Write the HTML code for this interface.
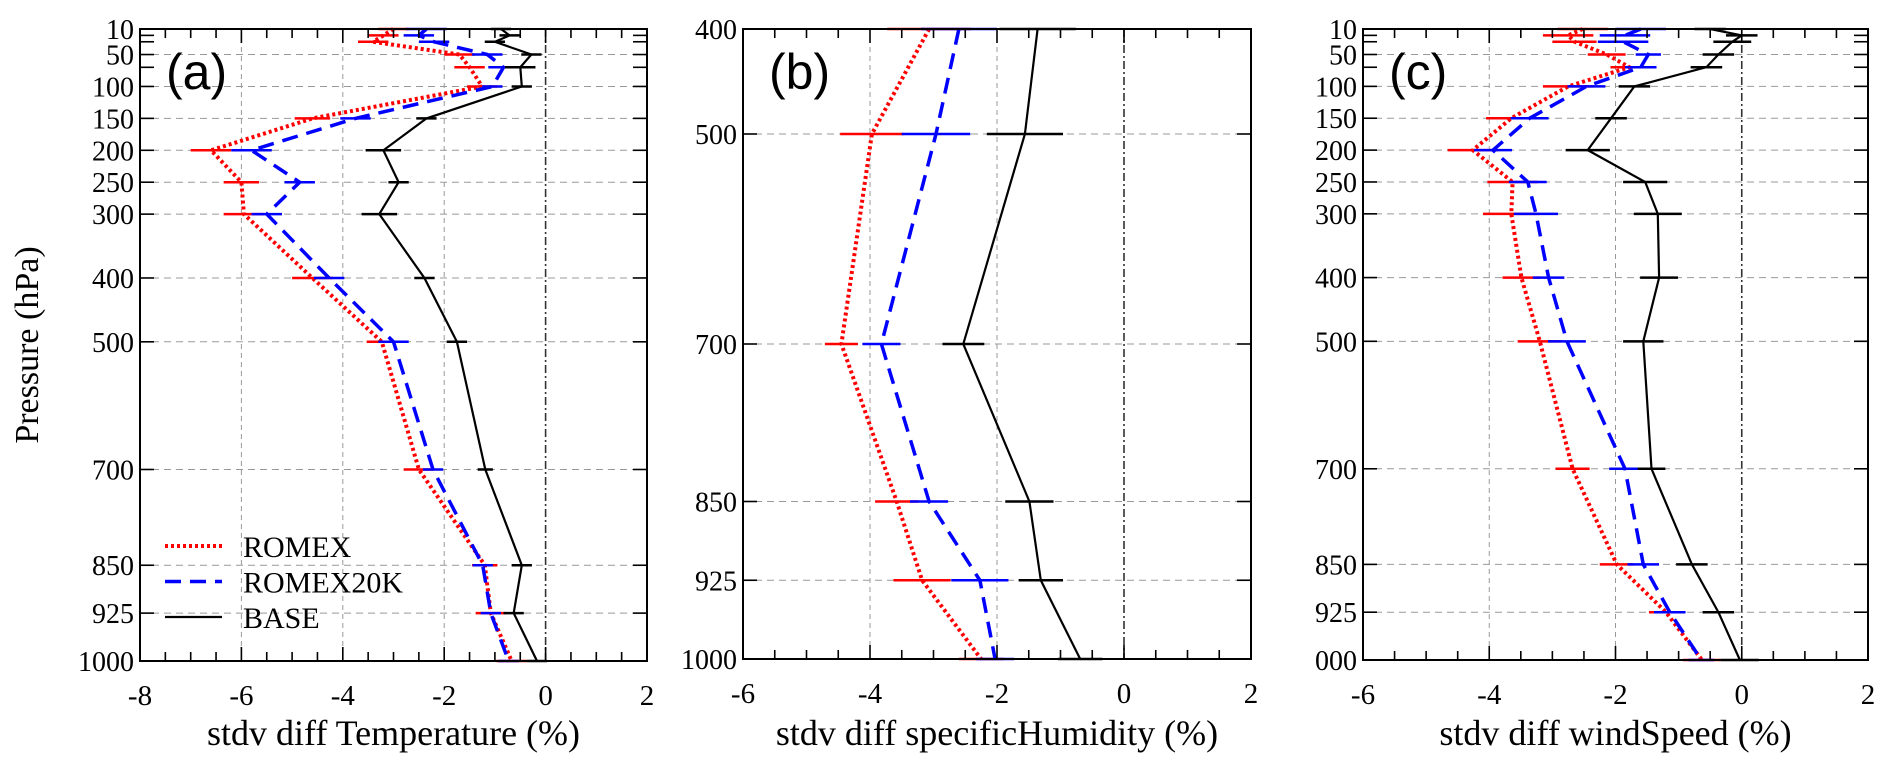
<!DOCTYPE html>
<html><head><meta charset="utf-8"><style>
html,body{margin:0;padding:0;background:#fff;}
svg{display:block;}
text{font-family:"Liberation Serif",serif;fill:#000;}
</style></head><body>
<svg id="fig" width="1892" height="769" viewBox="0 0 1892 769" xmlns="http://www.w3.org/2000/svg">
<text x="0" y="0" font-size="34" text-anchor="middle" transform="translate(38,345) rotate(-90)">Pressure (hPa)</text>
</svg>
<script>
const levelsFull = [10,20,30,50,70,100,150,200,250,300,400,500,700,850,925,1000];
const levelLabelsFull = [10,50,100,150,200,250,300,400,500,700,850,925,1000];
const levelsB = [400,500,700,850,925,1000];
const levelLabelsB = [400,500,700,850,925,1000];

const tempRomex = [-3.0,-3.2,-3.4,-1.7,-1.5,-1.25,-4.6,-6.6,-6.0,-5.95,-4.6,-3.23,-2.5,-1.2,-1.08,-0.67];
const tempRomex20k = [-2.35,-2.5,-2.2,-1.15,-0.83,-1.05,-3.75,-5.8,-4.85,-5.5,-4.27,-3.0,-2.22,-1.24,-1.08,-0.73];
const tempBase = [-0.88,-0.71,-1.0,-0.28,-0.5,-0.47,-2.35,-3.2,-2.9,-3.28,-2.39,-1.75,-1.19,-0.47,-0.63,-0.17];
const tempRomexErr = [0.3,0.3,0.3,0.3,0.3,0.3,0.35,0.4,0.35,0.4,0.4,0.3,0.3,0.25,0.3,0.3];
const tempRomex20kErr = [0.4,0.3,0.3,0.3,0.3,0.2,0.3,0.4,0.3,0.3,0.3,0.3,0.2,0.2,0.2,0.2];
const tempBaseErr = [0.2,0.2,0.2,0.2,0.3,0.2,0.2,0.35,0.2,0.35,0.2,0.2,0.15,0.2,0.2,0.2];

const humRomex = [-3.07,-3.97,-4.45,-3.58,-3.18,-2.25];
const humRomex20k = [-2.6,-2.96,-3.82,-3.07,-2.27,-2.03];
const humBase = [-1.36,-1.56,-2.53,-1.49,-1.31,-0.69];
const humRomexErr = [0.66,0.5,0.26,0.34,0.45,0.35];
const humRomex20kErr = [0.6,0.54,0.3,0.3,0.45,0.3];
const humBaseErr = [0.6,0.6,0.33,0.38,0.35,0.35];

const windRomex = [-2.52,-2.75,-2.65,-2.14,-1.78,-2.75,-3.65,-4.26,-3.63,-3.65,-3.49,-3.2,-2.68,-1.98,-1.2,-0.63];
const windRomex20k = [-1.6,-1.85,-1.88,-1.48,-1.6,-2.46,-3.36,-3.94,-3.39,-3.26,-3.06,-2.77,-1.85,-1.56,-1.14,-0.64];
const windBase = [-0.5,0.0,-0.15,-0.37,-0.56,-1.7,-2.07,-2.44,-1.53,-1.33,-1.31,-1.56,-1.43,-0.79,-0.37,-0.03];
const windRomexErr = [0.4,0.4,0.35,0.3,0.3,0.4,0.4,0.4,0.4,0.45,0.3,0.35,0.27,0.27,0.27,0.3];
const windRomex20kErr = [0.4,0.4,0.4,0.2,0.25,0.3,0.3,0.3,0.3,0.35,0.25,0.3,0.25,0.25,0.25,0.2];
const windBaseErr = [0.25,0.25,0.3,0.25,0.25,0.25,0.25,0.35,0.35,0.38,0.3,0.32,0.22,0.25,0.25,0.3];

const xTicksA = [-8,-6,-4,-2,0,2];
const xTicksBC = [-6,-4,-2,0,2];

const NS = "http://www.w3.org/2000/svg";
const svg = document.getElementById('fig');
function mk(tag, attrs, parent){
  const e = document.createElementNS(NS, tag);
  for (const k in attrs) e.setAttribute(k, attrs[k]);
  (parent||svg).appendChild(e);
  return e;
}

const panels = [
  {id:'a', label:'(a)', x0:140, x1:647, y0:29, y1:661, xmin:-8, xmax:2, pmin:10, pmax:1000,
   levels:levelsFull, labels:levelLabelsFull, ticks:xTicksA, title:'stdv diff Temperature (%)',
   series:[[tempRomex,tempRomexErr],[tempRomex20k,tempRomex20kErr],[tempBase,tempBaseErr]], legend:true},
  {id:'b', label:'(b)', x0:743, x1:1251, y0:29, y1:659, xmin:-6, xmax:2, pmin:400, pmax:1000,
   levels:levelsB, labels:levelLabelsB, ticks:xTicksBC, title:'stdv diff specificHumidity (%)',
   series:[[humRomex,humRomexErr],[humRomex20k,humRomex20kErr],[humBase,humBaseErr]]},
  {id:'c', label:'(c)', x0:1363, x1:1868, y0:29, y1:660, xmin:-6, xmax:2, pmin:10, pmax:1000,
   levels:levelsFull, labels:levelLabelsFull, ticks:xTicksBC, title:'stdv diff windSpeed (%)',
   series:[[windRomex,windRomexErr],[windRomex20k,windRomex20kErr],[windBase,windBaseErr]]}
];
const styles = [
  {name:'romex', color:'#ff0000', dash:'3,3', width:4, label:'ROMEX'},
  {name:'romex20k', color:'#0000ff', dash:'16,9', width:3.5, label:'ROMEX20K'},
  {name:'base', color:'#000000', dash:'', width:2.2, label:'BASE'}
];

panels.forEach(P=>{
  const g = mk('g', {});
  
  
  const X = v => P.x0 + (v - P.xmin) / (P.xmax - P.xmin) * (P.x1 - P.x0);
  const Y = p => P.y0 + (p - P.pmin) / (P.pmax - P.pmin) * (P.y1 - P.y0);
  P.ticks.forEach(t=>{
    if (t===P.xmin || t===P.xmax) return;
    const l = mk('line', {x1:X(t), x2:X(t), y1:P.y0, y2:P.y1, stroke: t===0?'#333':'#999', 'stroke-width':t===0?1.6:1, 'stroke-dasharray':t===0?'8,3,2,3':'5,4'}, g);
    
    
  });
  P.levels.forEach(p=>{
    if (P.labels.indexOf(p) < 0 || p===P.pmin || p===P.pmax) return;
    const l = mk('line', {x1:P.x0, x2:P.x1, y1:Y(p), y2:Y(p), stroke:'#999', 'stroke-width':1, 'stroke-dasharray':'7,5'}, g);
    
    
  });
  P.series.forEach((s,i)=>{
    const st = styles[i];
    const vals = s[0], errs = s[1];
    const sg = mk('g', {}, g);
    
    
    vals.forEach((v,k)=>{
      const e = mk('line', {x1:X(v-errs[k]), x2:X(v+errs[k]), y1:Y(P.levels[k]), y2:Y(P.levels[k]), stroke:st.color, 'stroke-width':2.5}, sg);
      
      
    });
    const pts = vals.map((v,k)=>X(v).toFixed(1)+','+Y(P.levels[k]).toFixed(1)).join(' ');
    const pl = mk('polyline', {points:pts, fill:'none', stroke:st.color, 'stroke-width':st.width, 'stroke-dasharray':st.dash}, sg);
    
    
  });
  const fr = mk('rect', {x:P.x0, y:P.y0, width:P.x1-P.x0, height:P.y1-P.y0, fill:'none', stroke:'#000', 'stroke-width':2}, g);
  
  
  for (let v = P.xmin; v <= P.xmax + 1e-9; v += 0.5) {
    const major = Math.abs(v - Math.round(v/2)*2) < 1e-9;
    const len = major ? 14 : 9;
    mk('line', {x1:X(v), x2:X(v), y1:P.y1, y2:P.y1-len, stroke:'#000', 'stroke-width':1.6}, g);
    mk('line', {x1:X(v), x2:X(v), y1:P.y0, y2:P.y0+len, stroke:'#000', 'stroke-width':1.6}, g);
  }
  P.ticks.forEach(t=>{
    const tx = mk('text', {x:X(t), y:P.y1+44, 'font-size':29, 'text-anchor':'middle'}, g);
    
    
    tx.textContent = t;
  });
  P.levels.forEach(p=>{
    mk('line', {x1:P.x0, x2:P.x0+14, y1:Y(p), y2:Y(p), stroke:'#000', 'stroke-width':1.6}, g);
    mk('line', {x1:P.x1, x2:P.x1-14, y1:Y(p), y2:Y(p), stroke:'#000', 'stroke-width':1.6}, g);
  });
  P.labels.forEach(p=>{
    const tx = mk('text', {x:P.x0-6, y:Y(p)+10, 'font-size':28, 'text-anchor':'end'}, g);
    
    
    tx.textContent = (P.id==='c' && p===1000) ? '000' : p;
  });
  const tt = mk('text', {x:(P.x0+P.x1)/2, y:745, 'font-size':36, 'text-anchor':'middle'}, g);
  
  
  tt.textContent = P.title;
  const pl = mk('text', {x:P.x0+26, y:P.y0+60, 'font-size':50, style:'font-family:"Liberation Sans",sans-serif'}, g);
  
  
  pl.textContent = P.label;
  if (P.legend) {
    const lg = mk('g', {}, g);
    
    
    styles.forEach((st,i)=>{
      const yy = 546 + i*35.5;
      const ln = mk('line', {x1:165, x2:222, y1:yy, y2:yy, stroke:st.color, 'stroke-width':st.width, 'stroke-dasharray':st.dash}, lg);
      
      
      const tx = mk('text', {x:243, y:yy+11, 'font-size':30}, lg);
      
      
      tx.textContent = st.label;
    });
  }
});
</script>
</body></html>
